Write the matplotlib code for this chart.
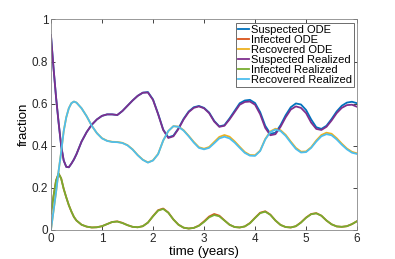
import matplotlib
matplotlib.use("Agg")
import matplotlib.pyplot as plt
import numpy as np

plt.rcParams['font.family'] = ['Liberation Sans', 'DejaVu Sans']

# time axis (years), finer at the start where things move fast
t = [0, 0.05, 0.1, 0.15, 0.2, 0.25, 0.3, 0.35, 0.4, 0.45, 0.5,
     0.6, 0.7, 0.8, 0.9, 1.0, 1.1, 1.2, 1.3, 1.4, 1.5,
     1.6, 1.7, 1.8, 1.9, 2.0, 2.1, 2.2, 2.3, 2.4, 2.5,
     2.6, 2.7, 2.8, 2.9, 3.0, 3.1, 3.2, 3.3, 3.4, 3.5,
     3.6, 3.7, 3.8, 3.9, 4.0, 4.1, 4.2, 4.3, 4.4, 4.5,
     4.6, 4.7, 4.8, 4.9, 5.0, 5.1, 5.2, 5.3, 5.4, 5.5,
     5.6, 5.7, 5.8, 5.9, 6.0]

s_real = [0.925, 0.77, 0.63, 0.51, 0.40, 0.33, 0.30, 0.298, 0.315, 0.335, 0.36,
          0.42, 0.465, 0.50, 0.525, 0.542, 0.549, 0.549, 0.546, 0.565, 0.59,
          0.615, 0.637, 0.652, 0.653, 0.618, 0.55, 0.475, 0.437, 0.445, 0.48,
          0.525, 0.56, 0.58, 0.587, 0.578, 0.555, 0.515, 0.49, 0.495, 0.525,
          0.56, 0.595, 0.608, 0.61, 0.595, 0.55, 0.485, 0.45, 0.455, 0.49,
          0.535, 0.572, 0.587, 0.58, 0.555, 0.51, 0.48, 0.475, 0.49, 0.52,
          0.555, 0.58, 0.593, 0.595, 0.585]
s_ode = [0.925, 0.77, 0.63, 0.51, 0.40, 0.33, 0.30, 0.298, 0.315, 0.335, 0.36,
         0.42, 0.465, 0.50, 0.525, 0.542, 0.549, 0.549, 0.546, 0.565, 0.59,
         0.615, 0.637, 0.652, 0.655, 0.62, 0.552, 0.477, 0.44, 0.448, 0.483,
         0.528, 0.563, 0.583, 0.589, 0.580, 0.558, 0.518, 0.492, 0.498, 0.53,
         0.566, 0.602, 0.615, 0.618, 0.603, 0.56, 0.495, 0.457, 0.462, 0.498,
         0.545, 0.583, 0.601, 0.596, 0.57, 0.525, 0.488, 0.48, 0.495, 0.527,
         0.563, 0.59, 0.605, 0.609, 0.602]

i_real = [0.079, 0.16, 0.235, 0.268, 0.245, 0.195, 0.155, 0.118, 0.088, 0.062, 0.045,
          0.025, 0.016, 0.012, 0.013, 0.018, 0.028, 0.038, 0.04, 0.033, 0.023,
          0.015, 0.013, 0.018, 0.035, 0.065, 0.092, 0.10, 0.082, 0.05, 0.025,
          0.011, 0.007, 0.01, 0.02, 0.038, 0.06, 0.071, 0.065, 0.045, 0.025,
          0.014, 0.012, 0.017, 0.032, 0.057, 0.08, 0.087, 0.072, 0.045, 0.024,
          0.014, 0.012, 0.018, 0.035, 0.058, 0.075, 0.079, 0.068, 0.045, 0.027,
          0.017, 0.015, 0.018, 0.028, 0.042]
i_ode = [0.079, 0.16, 0.235, 0.268, 0.245, 0.195, 0.155, 0.118, 0.088, 0.062, 0.045,
         0.025, 0.016, 0.012, 0.013, 0.018, 0.028, 0.038, 0.041, 0.034, 0.023,
         0.015, 0.013, 0.018, 0.035, 0.066, 0.094, 0.102, 0.083, 0.05, 0.025,
         0.011, 0.007, 0.01, 0.021, 0.041, 0.064, 0.076, 0.068, 0.046, 0.025,
         0.014, 0.012, 0.017, 0.033, 0.058, 0.082, 0.089, 0.073, 0.045, 0.024,
         0.014, 0.012, 0.018, 0.036, 0.059, 0.076, 0.08, 0.068, 0.045, 0.027,
         0.017, 0.015, 0.018, 0.028, 0.042]

r_real = [0.0, 0.09, 0.18, 0.28, 0.37, 0.47, 0.535, 0.578, 0.602, 0.61, 0.605,
          0.578, 0.54, 0.495, 0.46, 0.435, 0.423, 0.418, 0.417, 0.413, 0.402,
          0.382, 0.355, 0.333, 0.32, 0.33, 0.36, 0.425, 0.47, 0.493, 0.49,
          0.472, 0.445, 0.415, 0.39, 0.383, 0.39, 0.412, 0.435, 0.443, 0.435,
          0.415, 0.39, 0.366, 0.353, 0.352, 0.375, 0.43, 0.465, 0.477, 0.47,
          0.447, 0.415, 0.385, 0.368, 0.37, 0.39, 0.42, 0.445, 0.455, 0.45,
          0.43, 0.405, 0.383, 0.367, 0.361]
r_ode = [0.0, 0.09, 0.18, 0.28, 0.37, 0.47, 0.535, 0.578, 0.602, 0.61, 0.605,
         0.578, 0.54, 0.495, 0.46, 0.436, 0.424, 0.419, 0.418, 0.414, 0.403,
         0.383, 0.356, 0.334, 0.321, 0.331, 0.361, 0.425, 0.47, 0.493, 0.491,
         0.474, 0.447, 0.418, 0.393, 0.386, 0.394, 0.418, 0.442, 0.451, 0.443,
         0.421, 0.395, 0.37, 0.356, 0.355, 0.377, 0.432, 0.468, 0.481, 0.474,
         0.452, 0.42, 0.39, 0.372, 0.373, 0.393, 0.425, 0.451, 0.462, 0.457,
         0.436, 0.41, 0.387, 0.371, 0.364]

labels = ['Suspected ODE', 'Infected ODE', 'Recovered ODE',
          'Suspected Realized', 'Infected Realized', 'Recovered Realized']
colours = ['#0072BD', '#D95319', '#EDB120', '#7E2F8E', '#77AC30', '#4DBEEE']

fig = plt.figure(figsize=(3.95, 2.59), dpi=100)
ax = fig.add_axes([0.129, 0.112, 0.775, 0.813])

series = [s_ode, i_ode, r_ode, s_real, i_real, r_real]
for y, c, lab in zip(series, colours, labels):
    ax.plot(t, y, color=c, lw=1.3, label=lab)

ax.set_xlim(0, 6)
ax.set_ylim(0, 1)
ax.set_xticks(range(7))
ax.set_yticks([0, 0.2, 0.4, 0.6, 0.8, 1])
ax.set_yticklabels(['0', '0.2', '0.4', '0.6', '0.8', '1'])
ax.tick_params(direction='in', top=True, right=True, length=3, width=0.6,
               colors='#262626', labelsize=8.5, pad=2)
for sp in ax.spines.values():
    sp.set_color('#888888')
    sp.set_linewidth(0.6)

ax.set_xlabel('time (years)', fontsize=9.5, labelpad=1)
ax.set_ylabel('fraction', fontsize=9.5, labelpad=1)

leg = ax.legend(loc='upper right', fontsize=8.0, labelspacing=0.0,
                handlelength=1.0, handletextpad=0.1, borderpad=0.2,
                borderaxespad=0.3, fancybox=False, framealpha=1)
leg.get_frame().set_edgecolor('#555555')
leg.get_frame().set_linewidth(0.6)

plt.savefig('out.png', dpi=100)
